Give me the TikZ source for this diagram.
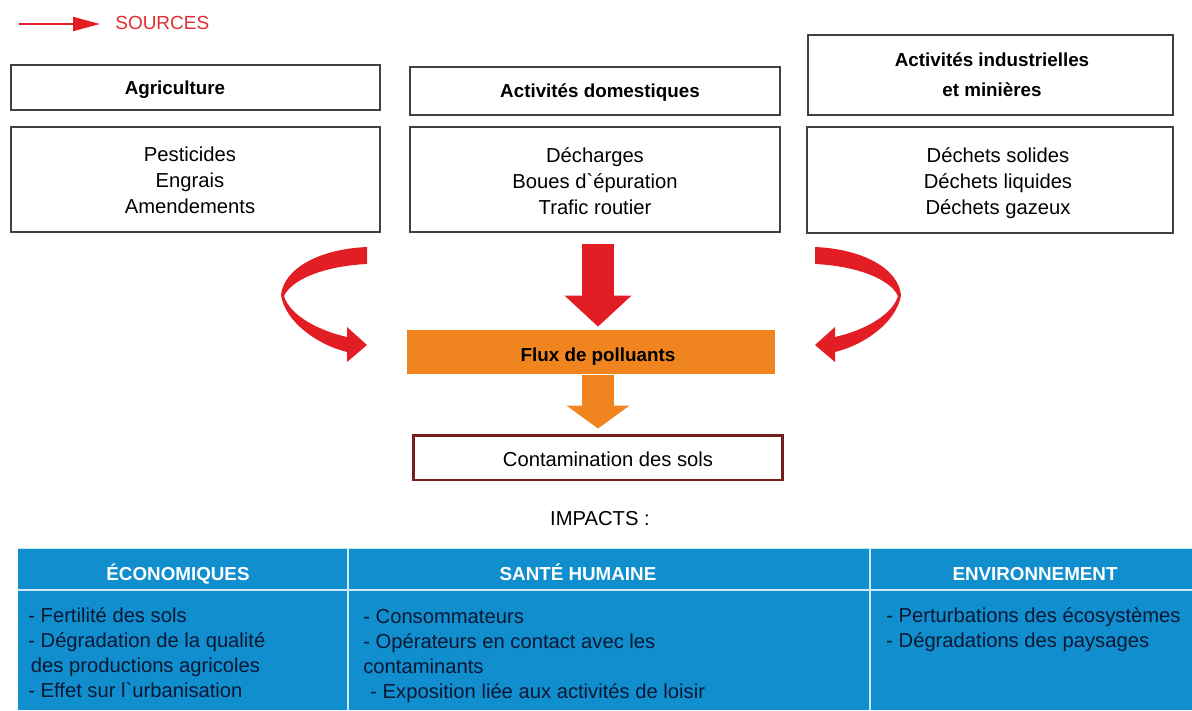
\documentclass[tikz,border=0pt]{standalone}
\usepackage{fontspec}
\setmainfont{Liberation Sans}
\usetikzlibrary{arrows.meta,calc}
\definecolor{arrred}{RGB}{226,30,36}
\definecolor{srcred}{RGB}{226,45,50}
\definecolor{fluxor}{RGB}{240,132,30}
\definecolor{tblue}{RGB}{16,142,206}
\definecolor{navy}{RGB}{10,24,52}
\definecolor{brick}{RGB}{118,30,30}
\begin{document}
\begin{tikzpicture}[x=0.02cm,y=-0.02cm,
  box/.style={draw=black!75, line width=0.9pt, inner sep=0, rectangle},
  hd/.style={font=\fontsize{10.7}{17}\selectfont\bfseries, align=center, inner sep=0},
  bd/.style={font=\fontsize{11.5}{14.75}\selectfont, align=center, inner sep=0},
  tb/.style={font=\fontsize{11.5}{14.2}\selectfont, text=navy, align=left, inner sep=0, anchor=north west},
  th/.style={font=\fontsize{10.7}{13}\selectfont\bfseries, text=white, inner sep=0, anchor=base},
  bigarrow/.style={line width=0.64cm},
]
\useasboundingbox (0,0) rectangle (1192,710);

% legend
\coordinate (srcstart) at (19,24);
\node[font=\fontsize{10.8}{13}\selectfont, text=srcred, anchor=base west, inner sep=0] (src) at (115,30) {SOURCES};
\coordinate (srcend) at ($(srcstart -| src.west)+(-15,0)$);
\draw[arrred, line width=0.04cm, -{Triangle[length=0.54cm,width=0.28cm]}] (srcstart) -- (srcend);

% source header boxes
\node[box, minimum width=7.38cm, minimum height=0.9cm] (agrih) at (195.5,87.5) {};
\node[box, minimum width=7.4cm, minimum height=0.96cm] (domh) at (595,91) {};
\node[box, minimum width=7.3cm, minimum height=1.6cm] (indh) at (990.5,75) {};
\node[hd, anchor=base] (agrit) at (175,94) {Agriculture};
\node[hd, anchor=base] (domt) at (600,97) {Activités domestiques};
\node[hd, anchor=north] (indt) at (992,52) {Activités industrielles\\et minières};

% source body boxes
\node[box, minimum width=7.38cm, minimum height=2.1cm] (agrib) at (195.5,179.5) {};
\node[box, minimum width=7.4cm, minimum height=2.1cm] (domb) at (595,179.5) {};
\node[box, minimum width=7.32cm, minimum height=2.12cm] (indb) at (990,180) {};
\node[bd, anchor=north] (agribt) at (190,147) {Pesticides\\Engrais\\Amendements};
\node[bd, anchor=north] (dombt) at (595,147) {Décharges\\Boues d\textasciigrave épuration\\Trafic routier};
\node[bd, anchor=north] (indbt) at (998,147) {Déchets solides\\Déchets liquides\\Déchets gazeux};

% flux and contamination
\node[fill=fluxor, inner sep=0, minimum width=7.36cm, minimum height=0.88cm] (flux) at (591,352) {};
\node[hd, anchor=base] (fluxt) at (598,361) {Flux de polluants};
\node[draw=brick, line width=1.7pt, inner sep=0, minimum width=7.4cm, minimum height=0.9cm] (contam) at (598,457.5) {};
\node[bd, anchor=base] (contamt) at (608,466) {Contamination des sols};
\node[bd, anchor=base] (impacts) at (600,525) {IMPACTS :};

% straight arrows
\draw[arrred, bigarrow, -{Triangle[length=0.62cm,width=1.3cm]}] ($(domb.south)+(3,11)$) -- ($(flux.north)+(7,-3)$);
\draw[fluxor, bigarrow, -{Triangle[length=0.46cm,width=1.24cm]}] ($(flux.south)+(7,1)$) -- ($(contam.north)+(0,-5)$);

% curved arrows
\fill[arrred] (367,247) .. controls (320,249) and (284,268) .. (281,295)
  .. controls (285,322) and (318,345) .. (347,352)
  -- (347,362) -- (367,345) -- (347,327) -- (347,337)
  .. controls (320,331) and (290,316) .. (284,296)
  .. controls (292,279) and (325,266) .. (367,264) -- cycle;
\fill[arrred] (815,247) .. controls (862,249) and (898,268) .. (901,295)
  .. controls (897,322) and (864,345) .. (835,352)
  -- (835,362) -- (815,345) -- (835,327) -- (835,337)
  .. controls (862,331) and (892,316) .. (898,296)
  .. controls (890,279) and (857,266) .. (815,264) -- cycle;

% impacts table
\fill[tblue] (18,548) rectangle (1192,710);
\draw[white!75!tblue, line width=0.6pt] (18,548.5) -- (1192,548.5);
\draw[white!80!tblue, line width=1.1pt] (18,590) -- (1192,590) (348,548) -- (348,710) (870,548) -- (870,710);
\node[th] (eco) at (178,580) {ÉCONOMIQUES};
\node[th] (sante) at (578,580) {SANTÉ HUMAINE};
\node[th] (env) at (1035,580) {ENVIRONNEMENT};
\node[tb] (ecot) at (28,607) {- Fertilité des sols\\- Dégradation de la qualité\\\hspace*{1.5pt}des productions agricoles\\- Effet sur l\textasciigrave urbanisation};
\node[tb] (santet) at (363,609) {- Consommateurs\\- Opérateurs en contact avec les\\contaminants\\\hspace*{4pt}- Exposition liée aux activités de loisir};
\node[tb] (envt) at (886,607) {- Perturbations des écosystèmes\\- Dégradations des paysages};
\end{tikzpicture}
\end{document}
